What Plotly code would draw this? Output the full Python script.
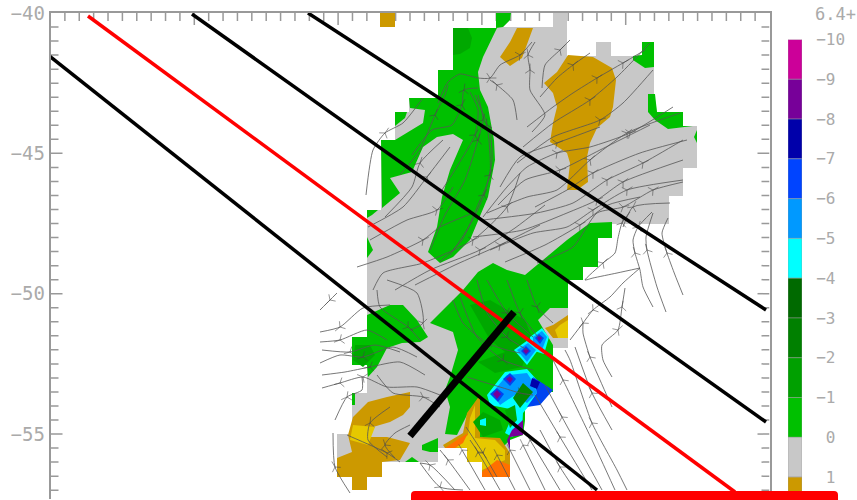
import plotly.graph_objects as go

# Calibration of the map frame
LEFT, RIGHT, TOP = 50.5, 769.5, 13.0
PER_DEG_Y = 28.07
PER_DEG_X = 28.76
LON_WEST, LON_EAST = -80.0, -55.0
BOTTOM = 499.0
MARGIN = 1


def lon(v):
    return LON_WEST + (v - LEFT) / PER_DEG_X


def lat(v):
    return -40.0 - (v - TOP) / PER_DEG_Y


def fx(v):
    return (v - MARGIN) / (857 - 2 * MARGIN)


def fy(v):
    return 1 - (v - MARGIN) / (500 - 2 * MARGIN)


# colour classes of the field
C = dict(grey="#c8c8c8", gold="#cc9900", yellow="#e6c800", orange="#ff7000", g1="#00c000", g2="#00a800",
         g3="#008800", g4="#006a00", cyan="#00ffff", sky="#0099ff", blue="#0044f0", navy="#0000aa",
         purple="#770099", mag="#cc0099")

grey_field = [(453,28),(496,28),(496,13),(511,13),(510,20),(503,27),(553,27),(553,13),(567,13),(567,56),(596,56),(596,42),(611,42),(611,56),(633,56),(642,55),(642,42),(654,42),(654,94),(657,112),(683,112),(683,126),(697,126),(697,168),(683,168),(683,196),(669,196),(669,224),(612,224),(612,238),(598,238),(598,267),(583,267),(583,280),(568,280),(568,348),(553,348),(553,392),(540,392),(540,405),(525,405),(525,420),(523,435),(510,435),(510,477),(482,477),(482,462),(467,462),(467,448),(438,448),(438,462),(382,462),(382,477),(367,477),(367,490),(352,490),(352,477),(337,477),(337,434),(352,434),(352,393),(367,393),(367,365),(352,365),(352,337),(367,337),(367,210),(381,210),(381,140),(395,140),(395,112),(409,112),(409,98),(438,98),(438,70),(453,70)]
green_north = [(453,28),(497,28),(483,57),(478,72),(480,90),(488,107),(494,140),(495,160),(488,197),(478,220),(470,240),(453,257),(440,263),(428,252),(437,227),(442,197),(450,170),(463,140),(453,134),(437,137),(423,147),(412,172),(390,178),(400,193),(382,208),(381,140),(395,140),(423,123),(425,110),(410,108),(409,98),(438,98),(438,70),(453,70)]
green_north_b = [(395,112),(407,112),(405,118),(395,126)]
green_north_dark = [(453,28),(468,28),(472,38),(470,48),(460,54),(453,55)]
green_top = [(496,13),(511,13),(510,20),(503,27),(496,28)]
green_edge_a = [(367,237),(373,250),(367,258)]
green_edge_b = [(367,210),(378,210),(372,215),(367,218)]
green_edge_c = [(697,130),(694,137),(697,143)]
green_ne_a = [(633,56),(642,55),(642,42),(654,42),(654,67),(645,68),(633,60)]
green_ne_b = [(648,94),(655,94),(657,112),(683,112),(683,126),(693,126),(668,129),(655,120),(648,112)]
green_centre = [(463,290),(478,272),(493,263),(507,270),(525,275),(543,260),(567,240),(590,223),(612,222),(612,238),(598,238),(598,267),(583,267),(583,280),(568,280),(568,308),(550,308),(538,320),(553,345),(553,392),(540,392),(540,405),(525,405),(525,420),(523,435),(510,440),(505,445),(480,445),(467,415),(457,435),(445,434),(450,407),(445,390),(450,377),(458,350),(453,332),(430,323),(453,300)]
green_centre_d = [(470,305),(490,300),(525,320),(535,345),(515,360),(490,340)]
green_centre_e = [(478,362),(505,352),(530,345),(522,367),(495,373)]
green_west = [(367,315),(390,305),(403,305),(417,320),(428,337),(420,342),(402,343),(387,348),(377,367),(368,377),(367,365),(352,365),(352,337),(367,337)]
green_west_d = [(355,345),(370,345),(375,355),(363,367),(353,360)]
green_sw_a = [(352,393),(355,393),(355,405),(352,405)]
green_sw_b = [(422,445),(438,438),(438,452),(430,452),(422,450)]
green_sw_c = [(405,462),(412,457),(419,462)]
gold_cell = [(380,13),(395,13),(395,27),(380,27)]
gold_n = [(517,28),(533,28),(522,58),(510,66),(500,57),(510,42)]
gold_big = [(568,55),(593,57),(612,68),(616,80),(613,107),(610,117),(597,128),(590,143),(587,157),(588,182),(577,190),(567,190),(570,163),(567,153),(550,142),(553,123),(557,107),(553,93),(544,83),(557,72)]
gold_sw = [(410,392),(410,407),(403,415),(390,422),(373,427),(368,437),(387,437),(410,443),(400,460),(382,462),(382,477),(367,477),(367,490),(352,490),(352,477),(337,477),(337,458),(352,452),(348,435),(353,417),(368,402),(387,397)]
yellow_sw = [(353,425),(375,427),(368,445),(350,440)]
gold_e = [(553,325),(568,315),(568,338),(553,338),(545,328)]
yellow_e = [(560,325),(568,320),(568,338),(558,338),(555,330)]
gold_s = [(480,395),(475,402),(467,413),(463,433),(443,445),(445,448),(467,448),(467,462),(482,462),(482,477),(510,477),(510,453),(500,438),(480,437)]
yellow_s = [(475,405),(470,418),(468,435),(450,447),(467,448),(467,462),(482,462),(482,470),(505,460),(505,450),(495,440),(475,438)]
orange_a = [(457,440),(468,433),(463,443),(455,448),(445,448)]
orange_b = [(482,472),(497,460),(510,465),(510,477),(482,477)]
cyan_band = [(487,395),(505,372),(527,369),(537,380),(540,393),(528,407),(523,413),(522,430),(512,437),(505,433),(515,410),(500,407),(490,405)]
sky_band = [(492,393),(507,375),(527,373),(533,382),(537,393),(527,403),(515,395),(500,405)]
blue_band = [(533,377),(553,390),(540,405),(527,407),(537,393)]
navy_a = [(532,378),(540,382),(537,389),(530,386)]
green_in = [(513,398),(523,383),(533,392),(520,408)]
green_in_b = [(505,410),(515,405),(517,420),(510,428)]
green_low = [(473,422),(483,412),(500,420),(503,430),(483,437)]
cyan_dot = [(480,420),(486,418),(486,426),(480,425)]
magenta_strip = [(523,420),(523,435),(510,437),(510,450),(507,440),(512,430)]
cyan_ne_a = [(530,337),(542,328),(549,337),(544,354),(531,350)]
sky_ne_a = [(533,337),(542,331),(547,337),(542,350),(533,347)]
blue_ne_a = [(535,338),(539,334),(544,338),(540,344)]
purple_ne_a = [(537,338),(539,336),(542,338),(539,341)]
cyan_ne_b = [(514,350),(528,340),(538,350),(527,365)]
sky_ne_b = [(517,350),(528,343),(536,350),(527,362)]
blue_ne_b = [(521,351),(526,346),(531,351),(526,356)]
purple_ne_b = [(523,351),(526,348),(529,351),(526,354)]
blue_w_a = [(490,394),(497,388),(504,394),(498,402)]
purple_w_a = [(493,394),(497,390),(501,394),(497,399)]
blue_w_b = [(503,379),(510,373),(516,379),(510,386)]
purple_w_b = [(506,379),(510,376),(513,379),(510,383)]

regions = [
    (grey_field, "grey"), (gold_cell, "gold"), (gold_n, "gold"), (gold_big, "gold"), (gold_sw, "gold"),
    (yellow_sw, "yellow"), (green_north, "g1"), (green_north_b, "g1"), (green_north_dark, "g2"), (green_top, "g1"),
    (green_edge_a, "g1"), (green_edge_b, "g1"), (green_edge_c, "g1"), (green_ne_a, "g1"), (green_ne_b, "g1"),
    (green_centre, "g1"), (green_centre_d, "g2"), (green_centre_e, "g2"), (green_west, "g1"), (green_west_d, "g2"),
    (green_sw_a, "g1"), (green_sw_b, "g1"), (green_sw_c, "g1"), (gold_e, "gold"), (yellow_e, "yellow"),
    (gold_s, "gold"), (yellow_s, "yellow"), (orange_a, "orange"), (orange_b, "orange"),
    (cyan_band, "cyan"), (sky_band, "sky"), (blue_band, "blue"), (navy_a, "navy"), (green_in, "g3"), (green_in_b, "g2"),
    (green_low, "g2"), (cyan_dot, "cyan"), (magenta_strip, "purple"),
    (cyan_ne_a, "cyan"), (sky_ne_a, "sky"), (blue_ne_a, "blue"), (purple_ne_a, "purple"),
    (cyan_ne_b, "cyan"), (sky_ne_b, "sky"), (blue_ne_b, "blue"), (purple_ne_b, "purple"),
    (blue_w_a, "blue"), (purple_w_a, "purple"), (blue_w_b, "blue"), (purple_w_b, "purple"),
]

# streamlines, tail first
stream_lines = [
    [(440,262),(462,240),(478,205),(490,175),(487,125),(475,95)],
    [(430,250),(445,215),(465,180),(478,140),(483,120),(478,95)],
    [(442,190),(458,165),(475,135),(478,110),(470,92)],
    [(450,255),(470,225),(484,195),(492,160),(490,125)],
    [(438,103),(448,82),(460,74),(478,78),(490,78),(500,65),(520,55),(532,42)],
    [(400,175),(420,150),(435,115),(445,95),(448,85)],
    [(412,155),(432,130),(452,125),(462,105),(464,90),(478,88)],
    [(517,120),(513,100),(497,85),(490,80)],
    [(532,132),(545,115),(530,90),(530,70),(528,55),(535,42)],
    [(542,88),(545,65),(560,50),(570,40)],
    [(540,97),(557,78),(573,65),(590,53)],
    [(527,127),(553,107),(573,93),(597,78),(623,63),(645,50)],
    [(523,147),(553,123),(590,100),(617,77),(650,43)],
    [(517,163),(553,137),(600,120),(623,103),(653,70)],
    [(500,187),(520,157),(557,143),(600,127)],
    [(483,217),(507,187),(527,167),(557,153),(590,147),(630,133),(673,107)],
    [(487,213),(527,197),(557,190),(590,160),(627,133),(680,113)],
    [(535,207),(567,190),(593,173),(640,153),(687,140)],
    [(483,220),(537,213),(573,203),(607,180),(643,163),(683,140)],
    [(473,237),(523,230),(567,213),(597,200),(623,182),(683,160)],
    [(490,250),(533,233),(567,227),(593,210),(627,190),(683,180)],
    [(537,263),(573,247),(597,213),(623,207),(653,190),(683,182)],
    [(505,262),(545,245),(580,225),(608,205),(640,197)],
    [(498,205),(525,180),(560,170),(600,150),(650,125)],
    [(623,227),(633,207),(670,203)],
    [(357,267),(387,257),(423,240),(440,227),(473,213)],
    [(373,290),(383,273),(423,263),(473,240),(507,207),(520,173)],
    [(395,290),(430,270),(480,250),(515,228),(545,205)],
    [(415,285),(455,265),(500,245),(540,225)],
    [(368,227),(403,207),(427,177),(450,147)],
    [(385,217),(412,187),(420,163),(443,140)],
    [(370,240),(407,220),(437,210),(453,187)],
    [(366,195),(373,150),(385,133),(403,123),(423,98)],
    [(683,295),(675,275),(667,253),(662,233),(668,218)],
    [(666,312),(657,287),(647,250),(646,237),(653,213)],
    [(653,307),(643,287),(640,270),(635,253),(633,240),(638,227),(652,212)],
    [(640,268),(623,283),(610,297),(593,310),(583,323),(570,340)],
    [(640,268),(617,273),(593,278),(585,280),(603,263),(615,253),(618,238),(622,223),(630,212)],
    [(612,377),(603,360),(602,345),(618,330),(622,307),(625,288)],
    [(612,407),(600,380),(590,357),(583,333),(583,323)],
    [(612,430),(592,393),(575,347)],
    [(627,490),(617,470),(592,423),(570,360),(565,350)],
    [(615,490),(592,440),(563,380),(553,360)],
    [(602,490),(562,417),(545,385)],
    [(592,490),(560,437),(535,395)],
    [(575,490),(560,467),(540,430)],
    [(560,490),(530,440)],
    [(545,490),(523,445)],
    [(530,490),(510,450)],
    [(515,490),(497,455)],
    [(500,490),(478,452),(470,440)],
    [(485,490),(462,450)],
    [(470,490),(448,460),(440,450)],
    [(455,490),(430,465),(420,463)],
    [(390,305),(363,308),(340,327),(320,332)],
    [(387,340),(367,330),(340,340),(320,342)],
    [(417,357),(393,347),(363,357),(340,355),(320,363)],
    [(440,395),(417,387),(387,387),(363,377),(340,383),(322,388)],
    [(400,352),(375,345),(350,352),(322,350)],
    [(425,375),(400,362),(370,367),(345,372),(322,375)],
    [(337,293),(330,300),(320,310)],
    [(362,377),(362,390),(347,397),(335,420)],
    [(350,493),(335,467),(333,433)],
    [(400,462),(387,453),(347,435)],
    [(387,457),(368,440),(370,423),(390,407)],
    [(410,425),(395,433),(385,445),(395,458)],
    [(377,375),(393,393),(423,397),(440,407)],
    [(377,290),(380,307),(408,327),(420,340)],
    [(387,280),(417,293),(423,323),(410,330)],
    [(453,300),(463,323),(487,343),(507,350),(520,353)],
    [(477,280),(487,313),(507,337),(527,350)],
    [(487,280),(507,313),(533,337)],
    [(507,280),(520,313),(538,337)],
    [(527,280),(537,307),(553,323)],
    [(460,297),(477,337),(503,360),(533,370)],
    [(467,377),(500,387),(520,393),(533,395)],
    [(466,427),(483,453),(497,477)],
    [(420,463),(440,487),(463,490)],
]

line_a = [(48,55),(597,490)]
line_b = [(192,14),(766,422)]
line_c = [(308,13),(766,310)]
line_red = [(88,16),(735,492)]
line_cross = [(410,436),(514,312)]

bar_levels = [-10,-9,-8,-7,-6,-5,-4,-3,-2,-1,0,1]
bar_colors = ["#cc0099","#770099","#0000aa","#0044ff","#0099ff","#00ffff","#006a00","#008000","#00a000","#00c000","#c8c8c8","#cc9900"]
bar_labels = ["\u221210","\u22129","\u22128","\u22127","\u22126","\u22125","\u22124","\u22123","\u22122","\u22121","\u00a00","\u00a01"]
lat_ticks = [-40,-45,-50,-55]
lat_labels = ["\u221240","\u221245","\u221250","\u221255"]

AX = "#999999"
MAJOR_LEN, MINOR_LEN = 12.0, 8.0

fig = go.Figure()
for poly, cname in regions:
    fig.add_trace(go.Scatter(x=[lon(p[0]) for p in poly], y=[lat(p[1]) for p in poly], mode="lines", fill="toself",
                             fillcolor=C[cname], line=dict(width=0, color=C[cname]), hoverinfo="skip"))

xs, ys, sizes = [], [], []
for s in stream_lines:
    mid = max(1, len(s) // 2)
    for i, p in enumerate(s):
        xs.append(lon(p[0]))
        ys.append(lat(p[1]))
        sizes.append(8 if i == mid or (len(s) >= 6 and i == len(s) - 2) else 0)
    xs.append(None)
    ys.append(None)
    sizes.append(0)
fig.add_trace(go.Scatter(x=xs, y=ys, mode="lines+markers", line=dict(color="#555555", width=0.8, shape="spline", smoothing=0.6),
                         marker=dict(symbol="y-up-open", size=sizes, angleref="previous", color="#444444",
                                     line=dict(color="#444444", width=0.8)), hoverinfo="skip", cliponaxis=False))

for seg, col, w in [(line_a, "#000000", 3.5), (line_b, "#000000", 3.5), (line_c, "#000000", 3.5),
                    (line_red, "#ff0000", 3.5), (line_cross, "#000000", 7)]:
    fig.add_trace(go.Scatter(x=[lon(p[0]) for p in seg], y=[lat(p[1]) for p in seg], mode="lines",
                             line=dict(color=col, width=w), hoverinfo="skip", cliponaxis=False))

fig.add_trace(go.Bar(x=[0] * len(bar_levels), y=[1] * len(bar_levels), base=bar_levels, width=1,
                     marker=dict(color=bar_colors, line=dict(color="#999999", width=0.5)),
                     xaxis="x2", yaxis="y2", hoverinfo="skip"))

# frame ticks every half degree on the top, left and right edges
tick_shapes = []
tick_line = dict(color=AX, width=1.5)
for k in range(1, 50):
    value = LON_WEST + k * 0.5
    length = MAJOR_LEN if k % 10 == 0 else MINOR_LEN
    tick_shapes.append(dict(type="line", xref="x", yref="y", x0=value, x1=value, y0=-40.0,
                            y1=-40.0 - length / PER_DEG_Y, line=tick_line, layer="below"))
for k in range(1, 35):
    value = -40.0 - k * 0.5
    length = MAJOR_LEN if k % 10 == 0 else MINOR_LEN
    tick_shapes.append(dict(type="line", xref="x", yref="y", x0=LON_WEST, x1=LON_WEST + length / PER_DEG_X, y0=value, y1=value,
                            line=tick_line, layer="below"))
    tick_shapes.append(dict(type="line", xref="x", yref="y", x0=LON_EAST, x1=LON_EAST - length / PER_DEG_X, y0=value, y1=value,
                            line=tick_line, layer="below"))

font = dict(family="DejaVu Sans Mono", color="#aaaaaa")
p_left, p_right, p_top = fx(411), fx(838), fy(491)
p_in = fx(415)
p_out = fx(834)
p_knee = fy(495)
p_base = fy(500)
fig.update_layout(
    width=857, height=500, margin=dict(l=MARGIN, r=MARGIN, t=MARGIN, b=MARGIN, autoexpand=False), autosize=False, showlegend=False,
    paper_bgcolor="white", plot_bgcolor="white", barmode="overlay",
    xaxis=dict(domain=[fx(LEFT), fx(RIGHT)], range=[LON_WEST, LON_EAST], side="top", anchor="y", showgrid=False, zeroline=False,
               showline=True, linecolor=AX, linewidth=1.5, ticks="", showticklabels=False),
    yaxis=dict(domain=[0, fy(TOP)], range=[lat(BOTTOM), lat(TOP)], anchor="x", showgrid=False, zeroline=False,
               showline=True, linecolor=AX, linewidth=1.5, mirror=True, ticks="", tickvals=lat_ticks, ticktext=lat_labels,
               tickfont=dict(size=19, **font)),
    xaxis2=dict(domain=[fx(788), fx(802)], range=[-0.5, 0.5], anchor="y2", visible=False),
    yaxis2=dict(domain=[0, fy(39.5)], range=[1.55, -10], anchor="x2", side="right", showgrid=False, zeroline=False,
                showline=False, ticks="outside", ticklen=10, tickcolor="rgba(0,0,0,0)", tickvals=bar_levels, ticktext=bar_labels,
                tickfont=dict(size=16, **font)),
    annotations=[dict(text="6.4+", xref="paper", yref="paper", x=fx(813), y=fy(14), xanchor="left", yanchor="middle",
                      showarrow=False, font=dict(size=17, **font))],
    shapes=tick_shapes + [dict(type="path", xref="paper", yref="paper", layer="above", fillcolor="#ff0000", line=dict(width=0),
                 path=f"M {p_left},{p_base} L {p_left},{p_knee} Q {p_left},{p_top} {p_in},{p_top} L {p_out},{p_top} "
                      f"Q {p_right},{p_top} {p_right},{p_knee} L {p_right},{p_base} Z")],
)
fig.write_html("out.html", config={"displayModeBar": False}, post_script="document.body.style.margin='0';")
